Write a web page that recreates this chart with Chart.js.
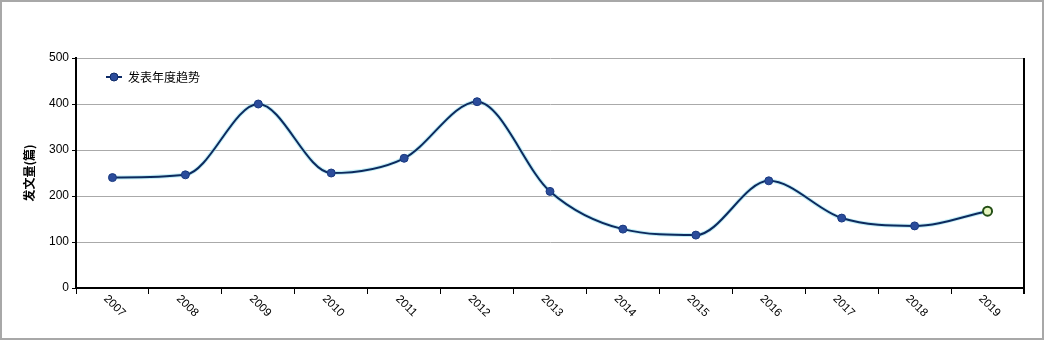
<!DOCTYPE html>
<html>
<head>
<meta charset="utf-8">
<script src="https://cdn.jsdelivr.net/npm/chart.js@4/dist/chart.umd.min.js"></script>
<style>
  html, body { margin: 0; padding: 0; background: #fff; }
  #wrap { position: relative; width: 1044px; height: 340px; }
  #frame { position: absolute; left: 0; top: 0; width: 1044px; height: 340px; box-sizing: border-box; border: 2px solid #a8a8a8; pointer-events: none; }
</style>
</head>
<body>
<div id="wrap">
  <canvas id="trendChart" width="1044" height="340"></canvas>
  <div id="frame"></div>
</div>
<script>
const years = ['2007', '2008', '2009', '2010', '2011', '2012', '2013', '2014', '2015', '2016', '2017', '2018', '2019'];
const paperCounts = [240, 246, 400, 250, 282, 405, 210, 128, 115, 233, 152, 135, 167];
const yTicks = [0, 100, 200, 300, 400, 500];
const seriesName = '发表年度趋势';
const axisTitle = '发文量(篇)';

const font = '"Liberation Sans", Arial, sans-serif';
const lastIdx = paperCounts.length - 1;

// rotated x labels (clockwise) + legend + right border
const extras = {
    id: 'extras',
    afterDraw(chart) {
        const ctx = chart.ctx;
        const x = chart.scales.x;
        const area = chart.chartArea;
        ctx.save();
        ctx.strokeStyle = '#000';
        ctx.lineWidth = 2;
        ctx.beginPath();
        ctx.moveTo(area.right, area.top);
        ctx.lineTo(area.right, area.bottom + 6);
        ctx.stroke();

        ctx.fillStyle = '#000';
        ctx.font = '11.5px ' + font;
        ctx.textAlign = 'center';
        ctx.textBaseline = 'middle';
        years.forEach((y, i) => {
            ctx.save();
            ctx.translate(x.getPixelForValue(i) + 2, area.bottom + 18);
            ctx.rotate(Math.PI / 4);
            ctx.fillText(y, 0, 0);
            ctx.restore();
        });

        // legend
        const lx = area.left + 30, ly = area.top + 19;
        ctx.strokeStyle = '#0d2a66';
        ctx.lineWidth = 2;
        ctx.beginPath();
        ctx.moveTo(lx, ly);
        ctx.lineTo(lx + 16, ly);
        ctx.stroke();
        ctx.beginPath();
        ctx.arc(lx + 8, ly, 4, 0, Math.PI * 2);
        ctx.fillStyle = '#2b4c9b';
        ctx.fill();
        ctx.lineWidth = 1;
        ctx.stroke();
        ctx.fillStyle = '#000';
        ctx.font = '12px "Noto Sans CJK SC", sans-serif';
        ctx.textAlign = 'left';
        ctx.fillText(seriesName, lx + 22, ly);
        ctx.restore();
    }
};

new Chart(document.getElementById('trendChart'), {
    type: 'line',
    data: {
        labels: years,
        datasets: [
            {
                label: seriesName,
                data: paperCounts,
                borderColor: '#0d2a5e',
                borderWidth: 2,
                cubicInterpolationMode: 'monotone',
                pointRadius: paperCounts.map((v, i) => i === lastIdx ? 4.5 : 4),
                pointBorderWidth: paperCounts.map((v, i) => i === lastIdx ? 2 : 1),
                pointBackgroundColor: paperCounts.map((v, i) => i === lastIdx ? '#e6f5bf' : '#2b4c9b'),
                pointBorderColor: paperCounts.map((v, i) => i === lastIdx ? '#244f16' : '#1a3a80'),
                fill: false
            },
            {
                label: 'glow',
                data: paperCounts,
                borderColor: 'rgba(150, 225, 240, 0.6)',
                borderWidth: 4,
                cubicInterpolationMode: 'monotone',
                pointRadius: 0,
                fill: false
            }
        ]
    },
    options: {
        responsive: false,
        animation: false,
        layout: { padding: { left: 0, right: 20, top: 58, bottom: 0 } },
        plugins: { legend: { display: false }, tooltip: { enabled: false } },
        scales: {
            x: {
                offset: true,
                grid: { display: true, drawOnChartArea: false, drawTicks: true, tickLength: 6, color: '#000', offset: true },
                border: { display: true, color: '#000', width: 2 },
                ticks: { display: false },
                afterFit(scale) { scale.height = 52; }
            },
            y: {
                min: 0,
                max: 500,
                afterBuildTicks(scale) { scale.ticks = yTicks.map(v => ({ value: v })); },
                grid: { color: '#aaa', lineWidth: 1, tickLength: 4, tickColor: '#000' },
                border: { display: true, color: '#000', width: 2 },
                ticks: { color: '#000', font: { family: font, size: 12 }, padding: 3 },
                title: { display: true, text: axisTitle, color: '#000', font: { family: '"Noto Sans CJK SC", sans-serif', size: 12, weight: 'bold' }, padding: { top: 22, bottom: 0 } },
                afterFit(scale) { scale.width = 76; }
            }
        }
    },
    plugins: [extras]
});
</script>
</body>
</html>
